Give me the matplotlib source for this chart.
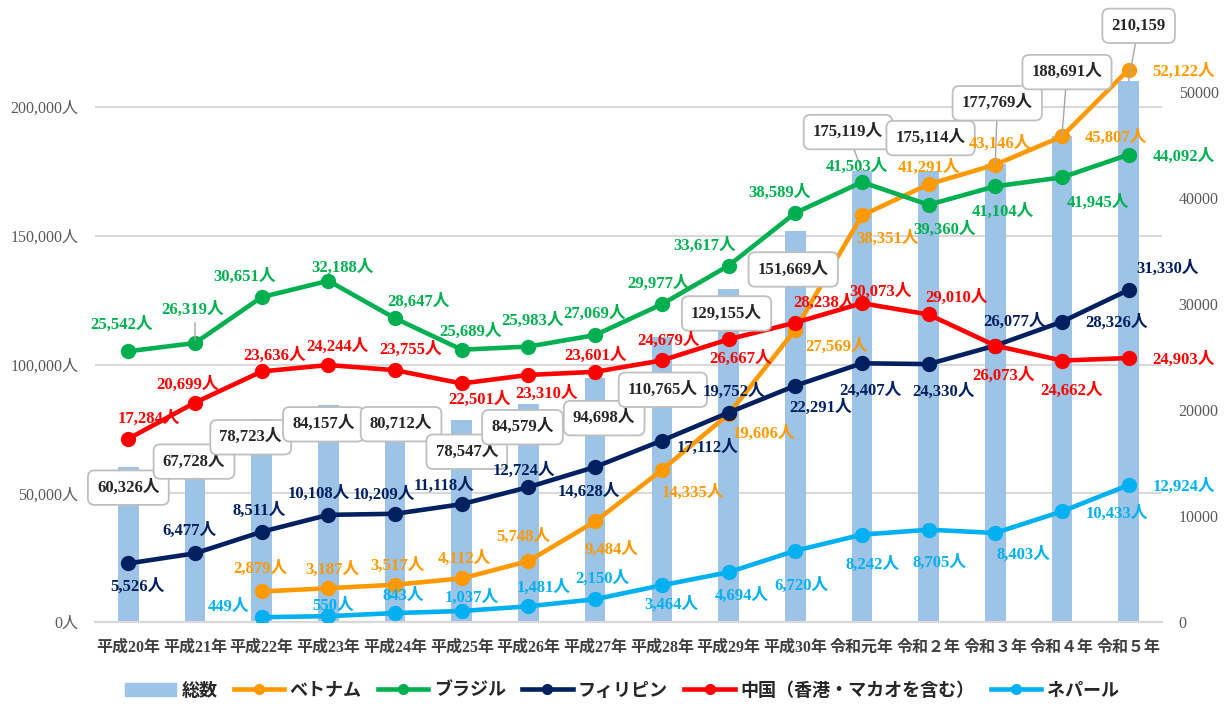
import matplotlib
matplotlib.use("Agg")
import matplotlib.pyplot as plt
from matplotlib.lines import Line2D
from matplotlib.patches import Patch
import numpy as np

plt.rcParams["font.family"] = ["Noto Sans CJK JP", "DejaVu Sans"]

YEARS = ["平成20年", "平成21年", "平成22年", "平成23年", "平成24年", "平成25年",
         "平成26年", "平成27年", "平成28年", "平成29年", "平成30年", "令和元年",
         "令和２年", "令和３年", "令和４年", "令和５年"]

TOTAL = [60326, 67728, 78723, 84157, 80712, 78547, 84579, 94698, 110765,
         129155, 151669, 175119, 175114, 177769, 188691, 210159]
VIETNAM = [None, None, 2879, 3187, 3517, 4112, 5748, 9484, 14335, 19606,
           27569, 38351, 41291, 43146, 45807, 52122]
BRAZIL = [25542, 26319, 30651, 32188, 28647, 25689, 25983, 27069, 29977,
          33617, 38589, 41503, 39360, 41104, 41945, 44092]
PHILIPPINES = [5526, 6477, 8511, 10108, 10209, 11118, 12724, 14628, 17112,
               19752, 22291, 24407, 24330, 26077, 28326, 31330]
CHINA = [17284, 20699, 23636, 24244, 23755, 22501, 23310, 23601, 24679,
         26667, 28238, 30073, 29010, 26073, 24662, 24903]
NEPAL = [None, None, 449, 550, 843, 1037, 1481, 2150, 3464, 4694, 6720,
         8242, 8705, 8403, 10433, 12924]

LEGEND = ["総数", "ベトナム", "ブラジル", "フィリピン", "中国（香港・マカオを含む）", "ネパール"]

BAR_C = "#9DC3E6"
COLORS = {"vn": "#FF9900", "br": "#00B050", "ph": "#002060", "cn": "#FF0000", "np": "#00B0F0"}

# label offsets in pixels (dx right, dy down) from each point
TOTAL_OFF = [(0, 21), (-1, 14), (-11, 18), (-5, 19), (6, 10), (5, 32), (-6, 23), (9, 40),
             (1, 53), (-2, 24), (-2, 38), (-14, -39), (2, -33), (2, -61), (5, -64), (10, -55)]
TOTAL_LEADER = [11, 13, 14, 15]
VN_OFF = [None, None, (-1, -23), (4, -18), (2, -19), (3, -20), (-5, -24), (16, 28),
          (31, 23), (35, 20), (41, 17), (26, 23), (0, -17), (5, -21), (54, 1), (55, 2)]
BR_OFF = [(-7, -26), (-2, -33), (-17, -20), (14, -13), (23, -17), (9, -18), (4, -26), (-1, -21),
          (-3, -20), (-24, -20), (-16, -20), (-5, -15), (16, 25), (8, 26), (36, 25), (55, 2)]
PH_OFF = [(9, 23), (-6, -23), (-3, -21), (-10, -21), (-11, -19), (-18, -18), (-5, -16), (-6, 25),
          (46, 7), (5, -21), (25, 22), (8, 28), (15, 28), (19, -24), (55, 1), (39, -21)]
CN_OFF = [(20, -20), (-8, -18), (13, -16), (9, -18), (15, -20), (18, 16), (18, 19), (0, -16),
          (7, -20), (12, 19), (29, -20), (19, -11), (28, -17), (8, 30), (10, 30), (55, 2)]
NP_OFF = [None, None, (-33, -10), (5, -10), (8, -17), (10, -13), (15, -18), (7, -20),
          (9, 20), (13, 24), (6, 35), (11, 30), (11, 33), (28, 22), (55, 2), (55, 2)]

LABEL_FONT = ["Liberation Serif", "Noto Sans CJK JP"]
LABEL_SIZE = 12

fig = plt.figure(figsize=(12.31, 7.04), dpi=100)
ax = fig.add_axes([95 / 1231, 82 / 704, 1067 / 1231, 612 / 704])
ax2 = ax.twinx()

x = np.arange(len(YEARS))
ax.bar(x, TOTAL, width=0.31, color=BAR_C, zorder=2)
ax.set_xlim(-0.5, len(YEARS) - 0.5)
ax.set_ylim(0, 612 / 0.002575)
ax2.set_ylim(0, 612 / 0.0106)

ax.set_yticks([0, 50000, 100000, 150000, 200000])
ax.set_yticklabels([f"{v:,}人" for v in [0, 50000, 100000, 150000, 200000]],
                   family=LABEL_FONT, fontsize=11.5, color="#595959")
ax2.set_yticks([0, 10000, 20000, 30000, 40000, 50000])
ax2.set_yticklabels([str(v) for v in [0, 10000, 20000, 30000, 40000, 50000]],
                    family=LABEL_FONT, fontsize=11.5, color="#595959")
ax.set_xticks(x)
ax.set_xticklabels(YEARS, family=LABEL_FONT, fontsize=11.5, fontweight="bold", color="#404040")
ax.tick_params(axis="x", length=0, pad=13)
ax.tick_params(axis="y", length=0, pad=12)
ax2.tick_params(axis="y", length=0, pad=12)

ax.grid(axis="y", color="#D9D9D9", lw=1.5, zorder=0)
ax.set_axisbelow(True)
for a in (ax, ax2):
    for s in ("top", "left", "right"):
        a.spines[s].set_visible(False)
    a.spines["bottom"].set_color("#D9D9D9")
    a.spines["bottom"].set_linewidth(1.5)

series = [
    (VIETNAM, COLORS["vn"], VN_OFF),
    (BRAZIL, COLORS["br"], BR_OFF),
    (PHILIPPINES, COLORS["ph"], PH_OFF),
    (CHINA, COLORS["cn"], CN_OFF),
    (NEPAL, COLORS["np"], NP_OFF),
]

for vals, col, offs in series:
    xs = [i for i, v in enumerate(vals) if v is not None]
    ys = [vals[i] for i in xs]
    ax2.plot(xs, ys, color=col, lw=3.3, marker="o", ms=10, zorder=3)
    for i in xs:
        dx, dy = offs[i]
        ax2.annotate(f"{vals[i]:,}人", xy=(i, vals[i]), xytext=(dx, -dy),
                     textcoords="offset pixels", ha="center", va="center",
                     family=LABEL_FONT, fontsize=LABEL_SIZE, fontweight="bold",
                     color=col, zorder=6)

# leader line for 26,319人
ax2.annotate("", xy=(1, BRAZIL[1]), xytext=(0, 23), textcoords="offset pixels",
             arrowprops=dict(arrowstyle="-", color="#A6A6A6", lw=1), zorder=4)

for i, v in enumerate(TOTAL):
    dx, dy = TOTAL_OFF[i]
    txt = f"{v:,}" if i == len(TOTAL) - 1 else f"{v:,}人"
    props = None
    if i in TOTAL_LEADER:
        props = dict(arrowstyle="-", color="#A6A6A6", lw=1, shrinkA=0, shrinkB=0)
    ax2.annotate(txt, xy=(i, v), xycoords=ax.transData, xytext=(dx, -dy),
                 textcoords="offset pixels", ha="center", va="center",
                 family=LABEL_FONT, fontsize=LABEL_SIZE, fontweight="bold", color="#262626",
                 bbox=dict(boxstyle="round,pad=0.55,rounding_size=0.4", fc="white",
                           ec="#BFBFBF", lw=1.3),
                 arrowprops=props, zorder=5)

handles = [Patch(color=BAR_C)]
for _, col, _ in series:
    handles.append(Line2D([0], [0], color=col, lw=3.3, marker="o", ms=7))
fig.legend(handles, LEGEND, loc="center", bbox_to_anchor=(622 / 1231, 1 - 690 / 704),
           ncol=6, frameon=False, handlelength=2.8, handleheight=0.7,
           handletextpad=0.3, columnspacing=0.9, numpoints=1,
           prop=dict(family=["Noto Sans CJK JP"], weight="bold", size=13))
for t in fig.legends[0].get_texts():
    t.set_color("#262626")

fig.savefig("out.png", dpi=100)
